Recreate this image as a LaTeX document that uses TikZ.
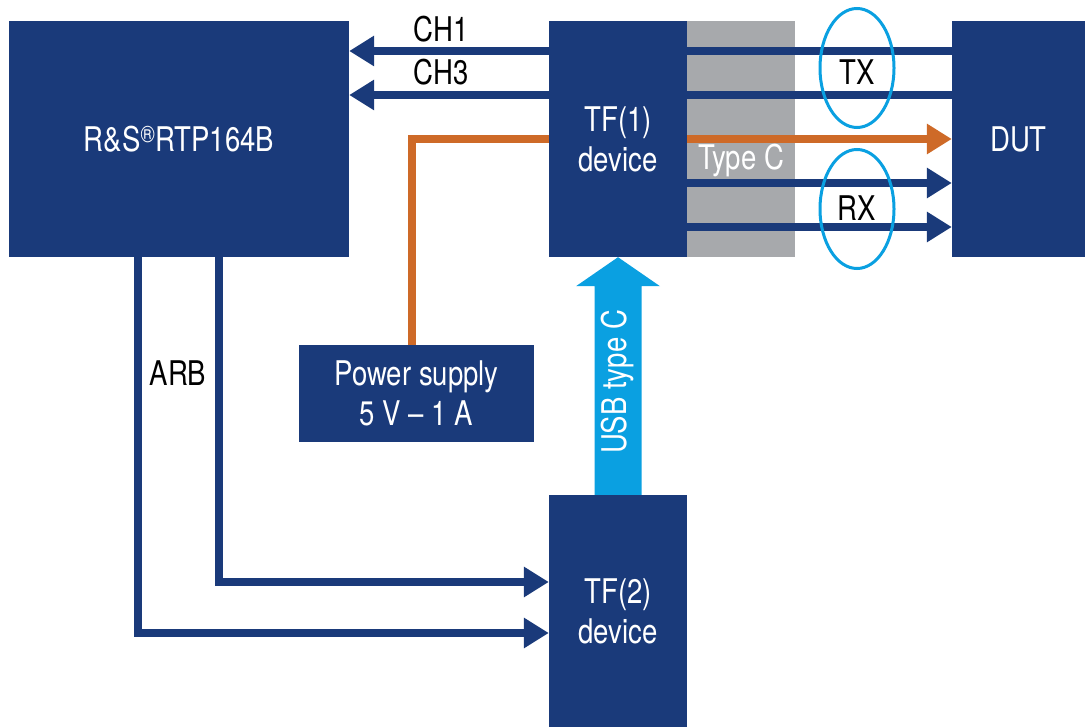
\documentclass[tikz,border=0pt]{standalone}
\usepackage{fontspec}
\setmainfont{TeX Gyre Heros}[FakeStretch=0.81]
\usetikzlibrary{arrows.meta,shapes.geometric,calc}
\definecolor{rsblue}{HTML}{1A3A7A}
\definecolor{rsorange}{HTML}{CE6A28}
\definecolor{rsgray}{HTML}{A7A9AC}
\definecolor{rscyan}{HTML}{0AA0E1}
\newcommand\dfont{\fontsize{34}{40}\selectfont}
\begin{document}
\begin{tikzpicture}[x=1pt,y=-1pt,
  blkbox/.style={rectangle, fill=rsblue, text=white, inner sep=0pt, align=center, font=\dfont},
  graybar/.style={rectangle, fill=rsgray, inner sep=0pt},
  lbl/.style={text=black, inner sep=0pt, font=\dfont},
  sig/.style={draw=rsblue, line width=7.5pt},
  pwr/.style={draw=rsorange, line width=7.5pt},
  sigtip/.style={-{Triangle[length=25pt,width=29pt]}},
  ring/.style={ellipse, draw=rscyan, line width=3pt, inner sep=0pt, minimum width=74pt, minimum height=119pt}
]
\useasboundingbox (0,0) rectangle (1085,727);

% boxes
\node[blkbox, minimum width=340pt, minimum height=236pt] (rtp) at (179,139) {R\&S\textsuperscript{®}RTP164B};
\node[blkbox, minimum width=138pt, minimum height=236pt] (tf1) at (618,139) {TF(1)\\device};
\node[graybar, minimum width=108pt, minimum height=236pt] (gray) at (741,139) {};
\node[blkbox, minimum width=133pt, minimum height=236pt] (dut) at (1018.5,139) {DUT};
\node[blkbox, minimum width=235pt, minimum height=97pt] (psu) at (416.5,393.5) {Power supply\\5 V – 1 A};
\node[blkbox, minimum width=138pt, minimum height=232pt] (tf2) at (618,611) {TF(2)\\device};

% labels
\node[lbl, text=white] (typec) at (741,161) {Type C};
\node[lbl] (ch1) at (441,29) {CH1};
\node[lbl] (ch3) at (441,72) {CH3};
\node[lbl] (arb) at (178,373) {ARB};

% connectors
\draw[sig, sigtip] (tf1.west |- 0,51) -- (rtp.east |- 0,51);
\draw[sig, sigtip] (tf1.west |- 0,95) -- (rtp.east |- 0,95);
\draw[sig] (tf1.east |- 0,51) -- (dut.west |- 0,51);
\draw[sig] (tf1.east |- 0,95) -- (dut.west |- 0,95);
\draw[pwr] (psu.north -| 412,0) |- (tf1.west |- 0,139);
\draw[pwr, sigtip] (tf1.east |- 0,139) -- (dut.west |- 0,139);
\draw[sig, sigtip] (tf1.east |- 0,183) -- (dut.west |- 0,183);
\draw[sig, sigtip] (tf1.east |- 0,227) -- (dut.west |- 0,227);
\draw[sig, sigtip] (rtp.south -| 219,0) |- (tf2.west |- 0,582);
\draw[sig, sigtip] (rtp.south -| 138,0) |- (tf2.west |- 0,633);

% TX / RX rings
\node[ring] (txring) at (857,68) {};
\node[ring] (rxring) at (857,209) {};
\node[lbl] (tx) at (857,72) {TX};
\node[lbl] (rx) at (857,208) {RX};

% USB type C arrow
\fill[rscyan] ($(tf2.north)+(-23.5,0)$) -- ($(tf1.south)+(-23.5,29)$) -- ($(tf1.south)+(-42,29)$) -- (tf1.south)
  -- ($(tf1.south)+(42,29)$) -- ($(tf1.south)+(23.5,29)$) -- ($(tf2.north)+(23.5,0)$) -- cycle;
\node[text=white, rotate=90, font=\dfont, inner sep=0pt] (usb) at (618,382) {USB type C};
\end{tikzpicture}
\end{document}
